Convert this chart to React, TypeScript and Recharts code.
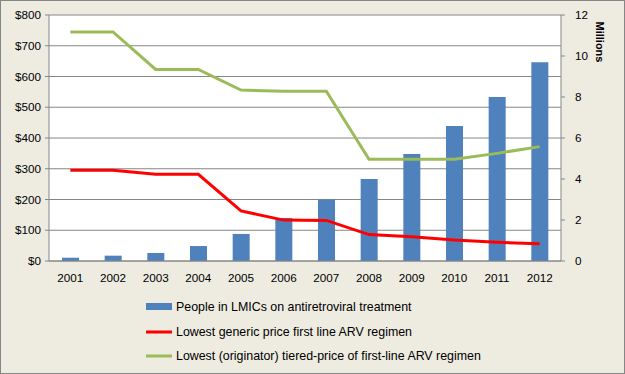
import { Bar, ComposedChart, Line, XAxis, YAxis, CartesianGrid, Legend, Label } from "recharts"

const years = ["2001", "2002", "2003", "2004", "2005", "2006", "2007", "2008", "2009", "2010", "2011", "2012"]

// people on treatment, millions (right axis)
const peopleOnTreatment = [0.16, 0.26, 0.39, 0.73, 1.32, 2.1, 3.0, 4.0, 5.22, 6.59, 8.0, 9.7]

// USD per person per year (left axis)
const genericPrice = [295, 295, 282, 282, 163, 133, 132, 86, 79, 68, 61, 56]
const tieredPrice = [745, 745, 623, 623, 556, 552, 552, 331, 331, 331, 350, 372]

const priceTicks = [0, 100, 200, 300, 400, 500, 600, 700, 800]
const millionTicks = [0, 2, 4, 6, 8, 10, 12]
const boundaryTicks = [0, 1, 2, 3, 4, 5, 6, 7, 8, 9, 10, 11, 12]

const seriesNames = [
  "People in LMICs on antiretroviral treatment",
  "Lowest generic price first line ARV regimen",
  "Lowest (originator) tiered-price of first-line ARV regimen",
]

const data = years.map((year, i) => ({
  year,
  people: peopleOnTreatment[i],
  generic: genericPrice[i],
  tiered: tieredPrice[i],
}))

const FONT = "'Liberation Sans', Arial, sans-serif"
const AXIS = "#868686"

function LegendBox() {
  const items = [
    { name: seriesNames[0], color: "#4F81BD", bar: true },
    { name: seriesNames[1], color: "#FF0000", bar: false },
    { name: seriesNames[2], color: "#9BBB59", bar: false },
  ]
  return (
    <div style={{ fontFamily: FONT, fontSize: 12.4, color: "#000" }}>
      {items.map((it) => (
        <div key={it.name} style={{ height: 24.5, display: "flex", alignItems: "center", whiteSpace: "nowrap" }}>
          <svg width={27} height={8} style={{ marginRight: 3 }}>
            {it.bar ? (
              <rect x={0} y={0} width={26} height={7} fill={it.color} />
            ) : (
              <line x1={0} x2={26} y1={4} y2={4} stroke={it.color} strokeWidth={3} />
            )}
          </svg>
          <span>{it.name}</span>
        </div>
      ))}
    </div>
  )
}

function MillionsLabel(props: any) {
  const vb = props.viewBox || {}
  const x = vb.x + 39
  const y = vb.y + 27
  return (
    <text
      x={x}
      y={y}
      transform={`rotate(90, ${x}, ${y})`}
      textAnchor="middle"
      dominantBaseline="central"
      fontFamily={FONT}
      fontSize={11}
      fontWeight="bold"
      fill="#000"
    >
      Millions
    </text>
  )
}

export default function App() {
  return (
    <div
      style={{
        position: "absolute",
        left: 0,
        top: 0,
        width: 623,
        height: 372,
        border: `1px solid ${AXIS}`,
        background: "#EEECE1",
      }}
    >
      <ComposedChart
        width={623}
        height={372}
        data={data}
        margin={{ top: 14, left: 0, right: 23, bottom: 81 }}
      >
        <CartesianGrid vertical={false} stroke={AXIS} fill="#FFFFFF" yAxisId="left" />
        <XAxis
          xAxisId="bounds"
          type="number"
          domain={[0, 12]}
          ticks={boundaryTicks}
          height={1}
          tick={false}
          tickSize={5}
          stroke={AXIS}
          allowDataOverflow
        />
        <XAxis
          xAxisId="cat"
          dataKey="year"
          height={30}
          axisLine={false}
          tickLine={false}
          tickSize={0}
          tickMargin={12}
          tick={{ fill: "#000", fontSize: 11.7, fontFamily: FONT }}
          interval={0}
        />
        <YAxis
          yAxisId="left"
          width={48}
          domain={[0, 800]}
          ticks={priceTicks}
          tickFormatter={(v) => `$${v}`}
          tickSize={4}
          tickMargin={4}
          stroke={AXIS}
          tick={{ fill: "#000", fontSize: 11.7, fontFamily: FONT }}
        />
        <YAxis
          yAxisId="right"
          orientation="right"
          width={40}
          domain={[0, 12]}
          ticks={millionTicks}
          tickSize={4}
          tickMargin={10}
          stroke={AXIS}
          tick={{ fill: "#000", fontSize: 11.7, fontFamily: FONT, textAnchor: "start" }}
        >
          <Label content={<MillionsLabel />} />
        </YAxis>
        <Bar
          xAxisId="cat"
          yAxisId="right"
          dataKey="people"
          name={seriesNames[0]}
          fill="#4F81BD"
          barSize={17}
          isAnimationActive={false}
        />
        <Line
          xAxisId="cat"
          yAxisId="left"
          dataKey="generic"
          name={seriesNames[1]}
          stroke="#FF0000"
          strokeWidth={3}
          dot={false}
          activeDot={false}
          isAnimationActive={false}
        />
        <Line
          xAxisId="cat"
          yAxisId="left"
          dataKey="tiered"
          name={seriesNames[2]}
          stroke="#9BBB59"
          strokeWidth={3}
          dot={false}
          activeDot={false}
          isAnimationActive={false}
        />
        <Legend
          layout="vertical"
          align="center"
          verticalAlign="middle"
          content={<LegendBox />}
          wrapperStyle={{ top: 294, left: 145, width: "auto" }}
        />
      </ComposedChart>
    </div>
  )
}
